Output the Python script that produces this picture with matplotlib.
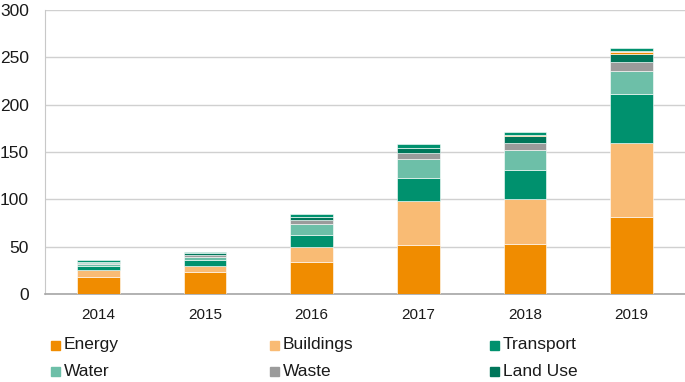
import matplotlib
matplotlib.use('Agg')
import matplotlib.pyplot as plt
from matplotlib.patches import Rectangle
import numpy as np

plt.rcParams['font.family'] = ['Liberation Sans', 'DejaVu Sans']

years = ['2014', '2015', '2016', '2017', '2018', '2019']

# stacked segments, bottom to top
energy = [17.5, 23.6, 33.5, 52.2, 53.3, 81.0]
buildings = [8.0, 6.4, 16.6, 45.9, 46.9, 78.0]
transport = [4.0, 6.3, 12.7, 24.3, 31.1, 52.2]
water = [2.0, 3.2, 11.3, 20.1, 20.4, 24.7]
waste = [1.4, 2.0, 4.5, 6.4, 7.8, 9.2]
land_use = [1.4, 1.4, 2.5, 5.3, 7.4, 8.5]
extra_a = [0.0, 0.0, 0.0, 0.0, 1.0, 1.7]
extra_b = [0.0, 0.0, 0.0, 0.0, 0.0, 1.3]
extra_c = [2.0, 1.5, 3.5, 3.9, 3.6, 3.5]

legend_names = ['Energy', 'Buildings', 'Transport', 'Water', 'Waste', 'Land Use']
colors = ['#F08C00', '#F9BB74', '#00916E', '#6DBFA8', '#9B9B9B', '#00765A']

series = [energy, buildings, transport, water, waste, land_use, extra_a, extra_b, extra_c]
series_colors = colors + colors[:3]

fig = plt.figure(figsize=(6.85, 3.82), dpi=100)
ax = fig.add_axes([45 / 685, 1 - 294 / 382, 640 / 685, 284 / 382])

x = np.arange(len(years))
bottom = np.zeros(len(years))
for vals, col in zip(series, series_colors):
    ax.bar(x, vals, width=0.4, bottom=bottom, color=col,
           edgecolor='white', linewidth=0.4, zorder=3)
    bottom += np.array(vals)

ax.set_xlim(-0.5, len(years) - 0.5)
ax.set_ylim(0, 300)
ax.set_yticks(range(0, 301, 50))
ax.set_xticks(x)
ax.set_xticklabels(years)
ax.yaxis.grid(True, color='#D0D0D0', linewidth=1.0, zorder=0)
ax.tick_params(axis='both', length=0, colors='#1a1a1a')
ax.tick_params(axis='x', pad=10, labelsize=11)
ax.tick_params(axis='y', pad=11.5, labelsize=12.5)
for s in ['top', 'right']:
    ax.spines[s].set_visible(False)
ax.spines['left'].set_color('#C8C8C8')
ax.spines['bottom'].set_color('#A6A6A6')
ax.spines['bottom'].set_linewidth(1.2)

# legend drawn by hand so the three columns line up like the reference
marker_x = [51, 270, 490]
text_x = [64, 283, 503]
row_y = [345, 371]
for i, (name, col) in enumerate(zip(legend_names, colors)):
    r, c = divmod(i, 3)
    yc = row_y[r]
    fig.patches.append(Rectangle((marker_x[c] / 685, 1 - (yc + 4.5) / 382),
                                 9 / 685, 9 / 382, color=col,
                                 transform=fig.transFigure, figure=fig))
    fig.text(text_x[c] / 685, 1 - yc / 382, name, fontsize=12.5,
             color='#1a1a1a', va='center', ha='left')

fig.savefig('out.png', dpi=100)
